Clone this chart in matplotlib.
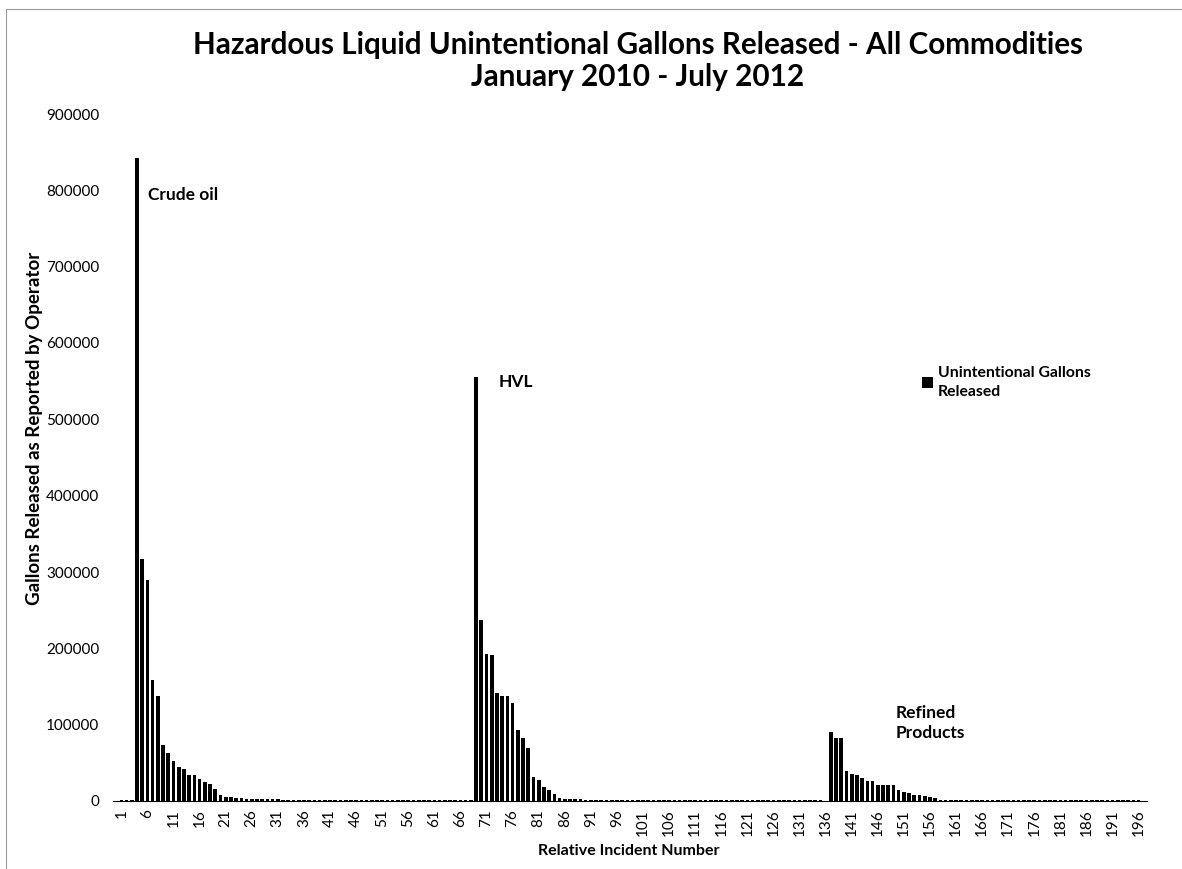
import numpy as np
import matplotlib
matplotlib.use("Agg")
from matplotlib import pyplot as plt
from matplotlib.patches import Rectangle

plt.rcParams['font.family'] = ['Lato', 'DejaVu Sans']

# gallons released, sorted within each commodity group
crude_oil = [1200, 1100, 1000, 843000, 317000, 290000, 159000, 138000, 74000, 63000,
             53000, 44000, 42000, 34000, 34000, 29000, 25000, 22000, 16000, 8000,
             5500, 5000, 4200, 3500, 3000, 3000, 2800, 2800, 2600, 2200,
             2000, 1900, 1800, 1800, 1700, 1700, 1600, 1600, 1600, 1500,
             1500, 1500, 1500, 1400, 1400, 1400, 1400, 1300, 1300, 1300,
             1300, 1300, 1300, 1200, 1200, 1800, 1800, 1700, 1600, 1500,
             1400, 1300, 1300, 1200, 1200, 1200, 1100, 1100]
hvl = [555000, 237000, 193000, 191000, 142000, 137000, 137000, 129000, 93000, 82000,
       69000, 31000, 27000, 18000, 14000, 9000, 4000, 3200, 3000, 2900,
       2600, 1600, 1600, 1500, 1500, 1500, 1500, 1500, 1500, 1500,
       1400, 1400, 1400, 1400, 1400, 1400, 1400, 1300, 1300, 1300,
       1300, 1300, 1300, 1300, 1300, 1300, 1200, 1200, 1200, 1200,
       1200, 1200, 1200, 1200, 1200, 1100, 1100, 1100, 1100, 1100,
       1100, 1500, 1500, 1400, 1400, 1300, 1300, 300]
refined = [90000, 83000, 83000, 39000, 35000, 34000, 30000, 26000, 26000, 21000,
           21000, 21000, 21000, 14000, 12000, 10000, 8500, 7500, 7000, 5500,
           4000, 1600, 1500, 1500, 1500, 1400, 1400, 1400, 1400, 1400,
           1300, 1300, 1300, 1300, 1300, 1300, 1300, 1200, 1200, 1200,
           1200, 1200, 1200, 1200, 1200, 1200, 1100, 1100, 1100, 1100,
           1100, 1100, 1100, 1100, 1300, 1500, 1500, 1400, 1300, 1000]

gallons = crude_oil + hvl + refined
incident = np.arange(1, len(gallons) + 1)
tick_nums = incident[::5]
y_ticks = np.arange(0, 900001, 100000)

fig = plt.figure(figsize=(11.82, 8.69), dpi=100)
ax = fig.add_axes([113 / 1182, 1 - 801 / 869, 1034 / 1182, 687 / 869])

ax.bar(incident, gallons, width=0.7, color='black', label='Unintentional Gallons\nReleased')

ax.set_xlim(-0.6, 197.6)
ax.set_ylim(0, 900000)
ax.set_xticks(tick_nums)
ax.set_xticklabels([str(n) for n in tick_nums], rotation=90, fontsize=11)
ax.set_yticks(y_ticks)
ax.set_yticklabels([str(v) for v in y_ticks], fontsize=11)
ax.tick_params(axis='x', length=0, pad=6)
ax.tick_params(axis='y', length=0, pad=10)
for side in ['top', 'right', 'left']:
    ax.spines[side].set_visible(False)
ax.spines['bottom'].set_linewidth(0.8)

# group labels
ax.text(6.1, 794000, 'Crude oil', fontsize=12.5, fontweight='bold', va='center')
ax.text(73.4, 549000, 'HVL', fontsize=12.5, fontweight='bold', va='center')
ax.text(149.4, 102000, 'Refined\nProducts', fontsize=12.5, fontweight='bold',
        va='center', linespacing=1.3)

leg = ax.legend(loc='upper left', bbox_to_anchor=(922 / 1182, 1 - 366 / 869),
                bbox_transform=fig.transFigure, frameon=False, borderaxespad=0,
                borderpad=0, handlelength=0.7, handleheight=0.7, handletextpad=0.3,
                prop={'size': 11.3, 'weight': 'bold'})
for t in leg.get_texts():
    t.set_linespacing(1.45)

fig.text(638 / 1182, 1 - 61 / 869,
         'Hazardous Liquid Unintentional Gallons Released - All Commodities\nJanuary 2010 - July 2012',
         ha='center', va='center', fontsize=21.3, fontweight='bold', linespacing=1.2)
fig.text(35 / 1182, 1 - 428 / 869, 'Gallons Released as Reported by Operator',
         rotation=90, ha='center', va='center', fontsize=13.5, fontweight='bold')
fig.text(629 / 1182, 1 - 851 / 869, 'Relative Incident Number',
         ha='center', va='center', fontsize=11.5, fontweight='bold')

# outer chart border
fig.patches.append(Rectangle((6 / 1182, -0.05), 1.2, 1 - 9 / 869 + 0.05,
                             transform=fig.transFigure, fill=False,
                             edgecolor='#9a9a9a', linewidth=0.8))

fig.savefig('out.png', dpi=100)
